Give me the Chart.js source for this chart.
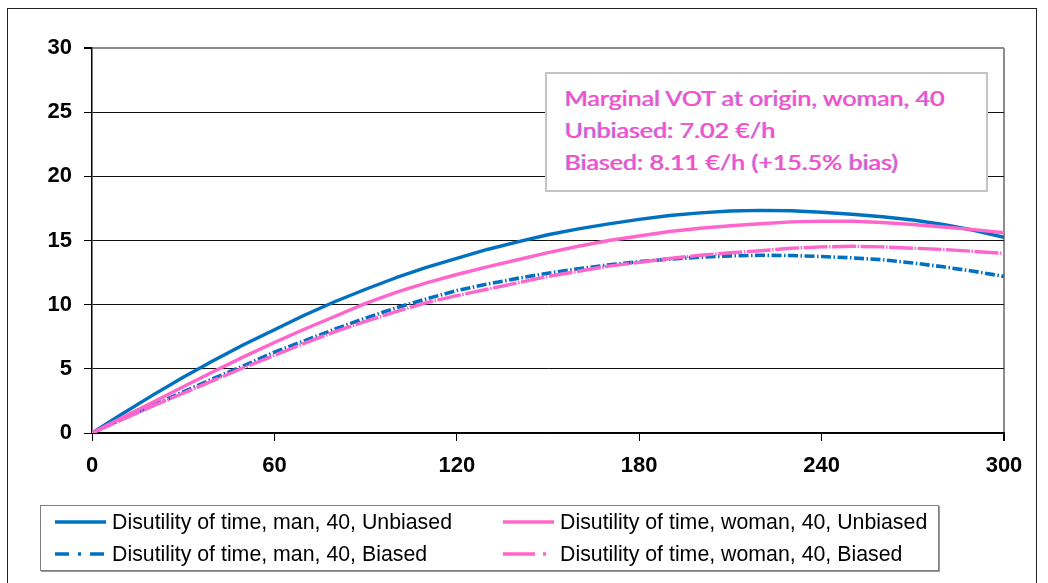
<!DOCTYPE html>
<html>
<head>
<meta charset="utf-8">
<script src="https://cdn.jsdelivr.net/npm/chart.js@4.4.1/dist/chart.umd.min.js"></script>
<style>
  html, body { margin:0; padding:0; background:#fff; }
  #wrap { position:relative; width:1048px; height:583px; overflow:hidden; background:#fff; }
  #frame { position:absolute; left:7px; top:8px; width:1030px; height:600px; border:1px solid #222; box-sizing:border-box; }
  canvas#c { position:absolute; left:0; top:0; }
  #note { position:absolute; left:545px; top:72px; width:443px; height:120px; box-sizing:border-box;
          border:2px solid #c4c4c4; background:#fff; }
  .nl { position:absolute; left:18px; font-family:Lato, "Open Sans", sans-serif; font-size:22px; white-space:nowrap;
        color:#ff4cc8; text-shadow:-1px 0 0 rgba(100,90,220,0.55); transform-origin:0 50%; line-height:26px; }
  #legend { position:absolute; left:40px; top:505px; width:899px; height:66px; box-sizing:border-box;
            border:1px solid #7f7f7f; background:#fff; box-shadow:1px 1px 0 #9a9a9a; }
  .li { position:absolute; height:26px; }
  .li svg { position:absolute; left:0; top:0; }
  .lt { position:absolute; font-family:"Liberation Sans", Arial, sans-serif; font-size:22px; white-space:nowrap;
        color:#000; transform-origin:0 50%; line-height:26px; top:0; }
</style>
</head>
<body>
<div id="wrap">
  <div id="frame"></div>
  <canvas id="c" width="1048" height="583"></canvas>
  <div id="note"></div>
  <div id="legend"></div>
</div>
<script>
// ---- data ----
const minutes = [0,10,20,30,40,50,60,70,80,90,100,110,120,130,140,150,160,170,180,190,200,210,220,230,240,250,260,270,280,290,300];
const manUnbiased   = [0,1.5,2.95,4.35,5.65,6.9,8.05,9.2,10.25,11.2,12.1,12.9,13.6,14.3,14.9,15.45,15.9,16.3,16.65,16.95,17.15,17.3,17.35,17.32,17.2,17.05,16.85,16.6,16.25,15.8,15.25];
const manBiased     = [0,1.1,2.15,3.2,4.25,5.25,6.3,7.2,8.1,8.95,9.75,10.45,11.1,11.6,12.05,12.45,12.8,13.1,13.35,13.55,13.7,13.8,13.85,13.83,13.75,13.65,13.5,13.25,12.95,12.6,12.2];
const womanUnbiased = [0,1.2,2.4,3.6,4.8,5.95,7.05,8.1,9.1,10.1,10.95,11.7,12.35,12.95,13.5,14.05,14.55,15.0,15.35,15.7,15.95,16.15,16.3,16.45,16.5,16.5,16.4,16.25,16.05,15.85,15.6];
const womanBiased   = [0,1.05,2.1,3.1,4.1,5.1,6.05,7.0,7.9,8.7,9.45,10.15,10.7,11.2,11.7,12.2,12.6,13.0,13.3,13.6,13.85,14.05,14.2,14.4,14.5,14.55,14.5,14.4,14.3,14.15,14.0];
const xTicks = [0,60,120,180,240,300];
const yTicks = [0,5,10,15,20,25,30];
const seriesNames = [
  "Disutility of time, man, 40, Unbiased",
  "Disutility of time, woman, 40, Unbiased",
  "Disutility of time, man, 40, Biased",
  "Disutility of time, woman, 40, Biased"
];
const noteLines = [
  "Marginal VOT at origin, woman, 40",
  "Unbiased: 7.02 €/h",
  "Biased: 8.11 €/h (+15.5% bias)"
];

const BLUE = '#0070c0', PINK = '#ff66cc';
const pts = arr => minutes.map((m,i)=>({x:m, y:arr[i]}));

const datasets = [
  {label:seriesNames[0], data:pts(manUnbiased), borderColor:BLUE, borderWidth:3.4, order:4},
  {label:seriesNames[1], data:pts(womanUnbiased), borderColor:PINK, borderWidth:3.4, order:2},
  {label:seriesNames[2], data:pts(manBiased), borderColor:BLUE, borderWidth:3.6, borderDash:[10,2.5,1.5,2.5], order:3},
  {label:seriesNames[3], data:pts(womanBiased), borderColor:PINK, borderWidth:3.4, borderDash:[24,1.5,1.5,1.5], order:1}
];
datasets.forEach(d=>{ d.pointRadius=0; d.fill=false; d.tension=0; d.borderCapStyle='butt'; d.borderJoinStyle='round'; });

const tickFont = {family:'"Liberation Sans", Arial', size:22, weight:'bold'};

new Chart(document.getElementById('c'), {
  type:'line',
  data:{ datasets },
  options:{
    responsive:false, animation:false, devicePixelRatio:1,
    layout:{ padding:{ left:0, top:48, right:44, bottom:110 } },
    plugins:{ legend:{display:false}, tooltip:{enabled:false}, title:{display:false} },
    scales:{
      x:{
        type:'linear', min:0, max:300,
        afterFit: s => { s.height = 40; },
        afterBuildTicks: s => { s.ticks = xTicks.map(v=>({value:v})); },
        ticks:{ color:'#000', font:tickFont, padding:12, maxRotation:0 },
        grid:{ drawOnChartArea:true, drawTicks:true, tickLength:8, tickColor:'#000',
               color: c => (c.tick && c.tick.value===300) ? '#8c8c8c' : 'rgba(0,0,0,0)',
               lineWidth: c => (c.tick && c.tick.value===300) ? 2 : 1 },
        border:{ display:true, color:'#000', width:1.5 }
      },
      y:{
        type:'linear', min:0, max:30,
        afterFit: s => { s.width = 92; },
        afterBuildTicks: s => { s.ticks = yTicks.map(v=>({value:v})); },
        ticks:{ color:'#000', font:tickFont, padding:12 },
        grid:{ drawTicks:true, tickLength:8, tickColor:'#000',
               color: c => (c.tick && c.tick.value===30) ? '#8c8c8c' : '#111',
               lineWidth: c => (c.tick && c.tick.value===30) ? 2 : 1 },
        border:{ display:true, color:'#000', width:1.5 }
      }
    }
  }
});

// ---- annotation box ----
const note = document.getElementById('note');
const noteTops = [11, 43, 75];
const nodes = noteLines.map((t,i)=>{
  const s=document.createElement('div'); s.className='nl'; s.textContent=t; s.style.top=noteTops[i]+'px'; note.appendChild(s); return s;
});
const k1 = 380 / nodes[0].getBoundingClientRect().width;
nodes.forEach(n=> n.style.transform = 'scaleX('+k1+')');

// ---- legend ----
const legend = document.getElementById('legend');
const items = [
  {name:seriesNames[0], color:BLUE, dash:null, col:0, row:0},
  {name:seriesNames[1], color:PINK, dash:null, col:1, row:0},
  {name:seriesNames[2], color:BLUE, dash:'14 9 3 9', col:0, row:1},
  {name:seriesNames[3], color:PINK, dash:'32 8 3 8', col:1, row:1}
];
const colX = [14, 462], rowY = [3, 35];
const lts = [];
items.forEach(it=>{
  const d=document.createElement('div'); d.className='li';
  d.style.left=colX[it.col]+'px'; d.style.top=rowY[it.row]+'px'; d.style.width='440px';
  const svg = '<svg width="54" height="26"><line x1="0" y1="13" x2="51" y2="13" stroke="'+it.color+'" stroke-width="3.4"'+(it.dash?' stroke-dasharray="'+it.dash+'"':'')+'/></svg>';
  d.innerHTML = svg;
  const t=document.createElement('div'); t.className='lt'; t.style.left='57px'; t.textContent=it.name; d.appendChild(t);
  legend.appendChild(d); lts.push(t);
});
const k2 = 340 / lts[0].getBoundingClientRect().width;
lts.forEach(t=> t.style.transform='scaleX('+k2+')');
</script>
</body>
</html>
